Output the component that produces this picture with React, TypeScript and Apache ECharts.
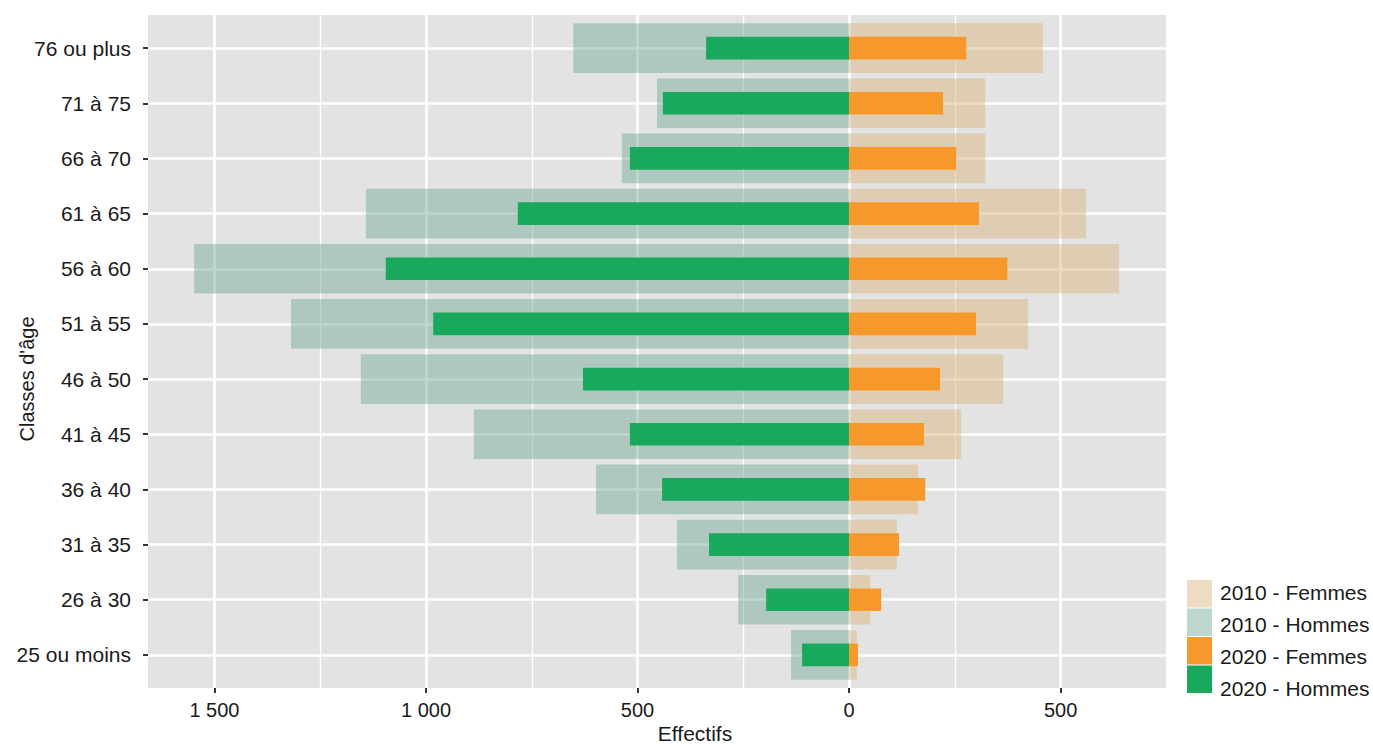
import React, { useEffect, useRef } from 'react';
import * as echarts from 'echarts';

const CATEGORIES = ['76 ou plus', '71 à 75', '66 à 70', '61 à 65', '56 à 60', '51 à 55', '46 à 50', '41 à 45', '36 à 40', '31 à 35', '26 à 30', '25 ou moins'];
const HOMMES_2010 = [652, 454, 537, 1142, 1548, 1319, 1154, 887, 598, 407, 262, 137];
const FEMMES_2010 = [458, 322, 322, 560, 638, 423, 364, 265, 163, 113, 50, 18];
const HOMMES_2020 = [338, 440, 518, 783, 1095, 983, 629, 518, 442, 331, 196, 111];
const FEMMES_2020 = [277, 222, 253, 307, 374, 300, 215, 177, 180, 118, 76, 21];
const X_TICKS = [-1500, -1000, -500, 0, 500];
const X_MINOR = [-1250, -750, -250, 250];
const X_MIN = -1657;
const X_MAX = 749;

const LEGEND_LABELS = ['2010 - Femmes', '2010 - Hommes', '2020 - Femmes', '2020 - Hommes'];
const COLORS = {
  f2010: 'rgb(214,178,118)',
  h2010: 'rgb(111,166,147)',
  f2020: '#f7992a',
  h2020: '#19a95d',
};
const OPACITY_2010 = 0.45;
const LEGEND_COLORS = [COLORS.f2010, COLORS.h2010, COLORS.f2020, COLORS.h2020];
const LEGEND_OPACITY = [OPACITY_2010, OPACITY_2010, 1, 1];

const FONT = "'Liberation Sans', Arial, Helvetica, sans-serif";
const TEXT = '#1a1a1a';
const TICK = '#333333';
const PLOT = { left: 148, top: 15, width: 1018, height: 673 };
const EXPAND = 0.6;

const fmt = (v: number) => String(Math.abs(v)).replace(/\B(?=(\d{3})+(?!\d))/g, ' ');

function buildOption() {
  const n = CATEGORIES.length;
  const unit = PLOT.height / (n - 1 + 2 * EXPAND);
  const barTop = PLOT.top + (EXPAND - 0.5) * unit;

  const legendGraphics: any[] = [];
  LEGEND_LABELS.forEach((lab, i) => {
    legendGraphics.push({
      type: 'rect',
      shape: { x: 1187, y: 580 + i * 28.5, width: 25, height: 27.5 },
      style: { fill: LEGEND_COLORS[i], opacity: LEGEND_OPACITY[i] },
      silent: true,
    });
    legendGraphics.push({
      type: 'text',
      x: 1220,
      y: 592 + i * 32,
      style: { text: lab, fontSize: 21, fontFamily: FONT, fill: TEXT, align: 'left', verticalAlign: 'middle' },
      silent: true,
    });
  });

  return {
    animation: false,
    backgroundColor: '#ffffff',
    grid: [
      { left: PLOT.left, top: PLOT.top, width: PLOT.width, height: PLOT.height, show: true, backgroundColor: '#e3e3e3', borderWidth: 0, containLabel: false },
      { left: PLOT.left, top: barTop, width: PLOT.width, height: n * unit, show: false, containLabel: false },
    ],
    xAxis: [
      {
        type: 'value', gridIndex: 0, min: X_MIN, max: X_MAX,
        axisLine: { show: true, onZero: false, lineStyle: { color: 'rgba(0,0,0,0)', width: 0 } },
        splitLine: { show: false },
        axisTick: { show: true, customValues: X_TICKS, length: 5, lineStyle: { color: TICK, width: 2 } },
        axisLabel: { customValues: X_TICKS, formatter: fmt, fontSize: 20, color: TEXT, fontFamily: FONT, margin: 12 },
      },
      { type: 'value', gridIndex: 1, min: X_MIN, max: X_MAX, show: false, splitLine: { show: false } },
    ],
    yAxis: [
      { type: 'value', gridIndex: 0, min: -EXPAND, max: n - 1 + EXPAND, inverse: true, show: false, splitLine: { show: false } },
      {
        type: 'category', gridIndex: 1, data: CATEGORIES, inverse: true,
        axisLine: { show: true, onZero: false, lineStyle: { color: 'rgba(0,0,0,0)', width: 0 } },
        axisTick: { show: true, alignWithLabel: true, length: 5, lineStyle: { color: TICK, width: 2 } },
        axisLabel: { fontSize: 21, color: TEXT, fontFamily: FONT, margin: 17 },
        splitLine: { show: false },
      },
      { type: 'category', gridIndex: 1, data: CATEGORIES, inverse: true, show: false },
    ],
    series: [
      {
        type: 'line', xAxisIndex: 0, yAxisIndex: 0, data: [], silent: true, z: 1,
        markLine: {
          silent: true,
          z: 1,
          symbol: ['none', 'none'],
          label: { show: false },
          lineStyle: { color: '#ffffff', type: 'solid', opacity: 1 },
          emphasis: { disabled: true },
          data: [
            ...X_MINOR.map((v) => ({ xAxis: v, lineStyle: { width: 1.4, color: '#ffffff', type: 'solid' } })),
            ...X_TICKS.map((v) => ({ xAxis: v, lineStyle: { width: 2.7, color: '#ffffff', type: 'solid' } })),
            ...CATEGORIES.map((_, i) => ({ yAxis: i, lineStyle: { width: 2.7, color: '#ffffff', type: 'solid' } })),
          ],
        },
      },
      {
        name: '2010 - Hommes', type: 'bar', xAxisIndex: 1, yAxisIndex: 1, stack: 's2010', barWidth: '90%', silent: true, z: 2,
        data: HOMMES_2010.map((v) => -v),
        itemStyle: { color: COLORS.h2010, opacity: OPACITY_2010 },
      },
      {
        name: '2010 - Femmes', type: 'bar', xAxisIndex: 1, yAxisIndex: 1, stack: 's2010', barWidth: '90%', silent: true, z: 2,
        data: FEMMES_2010,
        itemStyle: { color: COLORS.f2010, opacity: OPACITY_2010 },
      },
      {
        name: '2020 - Hommes', type: 'bar', xAxisIndex: 1, yAxisIndex: 2, stack: 's2020', barWidth: '41%', silent: true, z: 3,
        data: HOMMES_2020.map((v) => -v),
        itemStyle: { color: COLORS.h2020 },
      },
      {
        name: '2020 - Femmes', type: 'bar', xAxisIndex: 1, yAxisIndex: 2, stack: 's2020', barWidth: '41%', silent: true, z: 3,
        data: FEMMES_2020,
        itemStyle: { color: COLORS.f2020 },
      },
    ],
    graphic: [
      {
        type: 'text', x: 695, y: 733,
        style: { text: 'Effectifs', fontSize: 21, fontFamily: FONT, fill: TEXT, align: 'center', verticalAlign: 'middle' },
        silent: true,
      },
      {
        type: 'text', x: 27, y: 379, rotation: Math.PI / 2,
        style: { text: "Classes d'âge", fontSize: 20, fontFamily: FONT, fill: TEXT, align: 'center', verticalAlign: 'middle' },
        silent: true,
      },
      ...legendGraphics,
    ],
  };
}

export default function App() {
  const ref = useRef<HTMLDivElement>(null);
  useEffect(() => {
    if (!ref.current) return;
    const chart = echarts.init(ref.current, null, { renderer: 'svg' });
    chart.setOption(buildOption() as any);
    return () => chart.dispose();
  }, []);
  return <div ref={ref} style={{ position: 'fixed', left: 0, top: 0, width: 1373, height: 744 }} />;
}
